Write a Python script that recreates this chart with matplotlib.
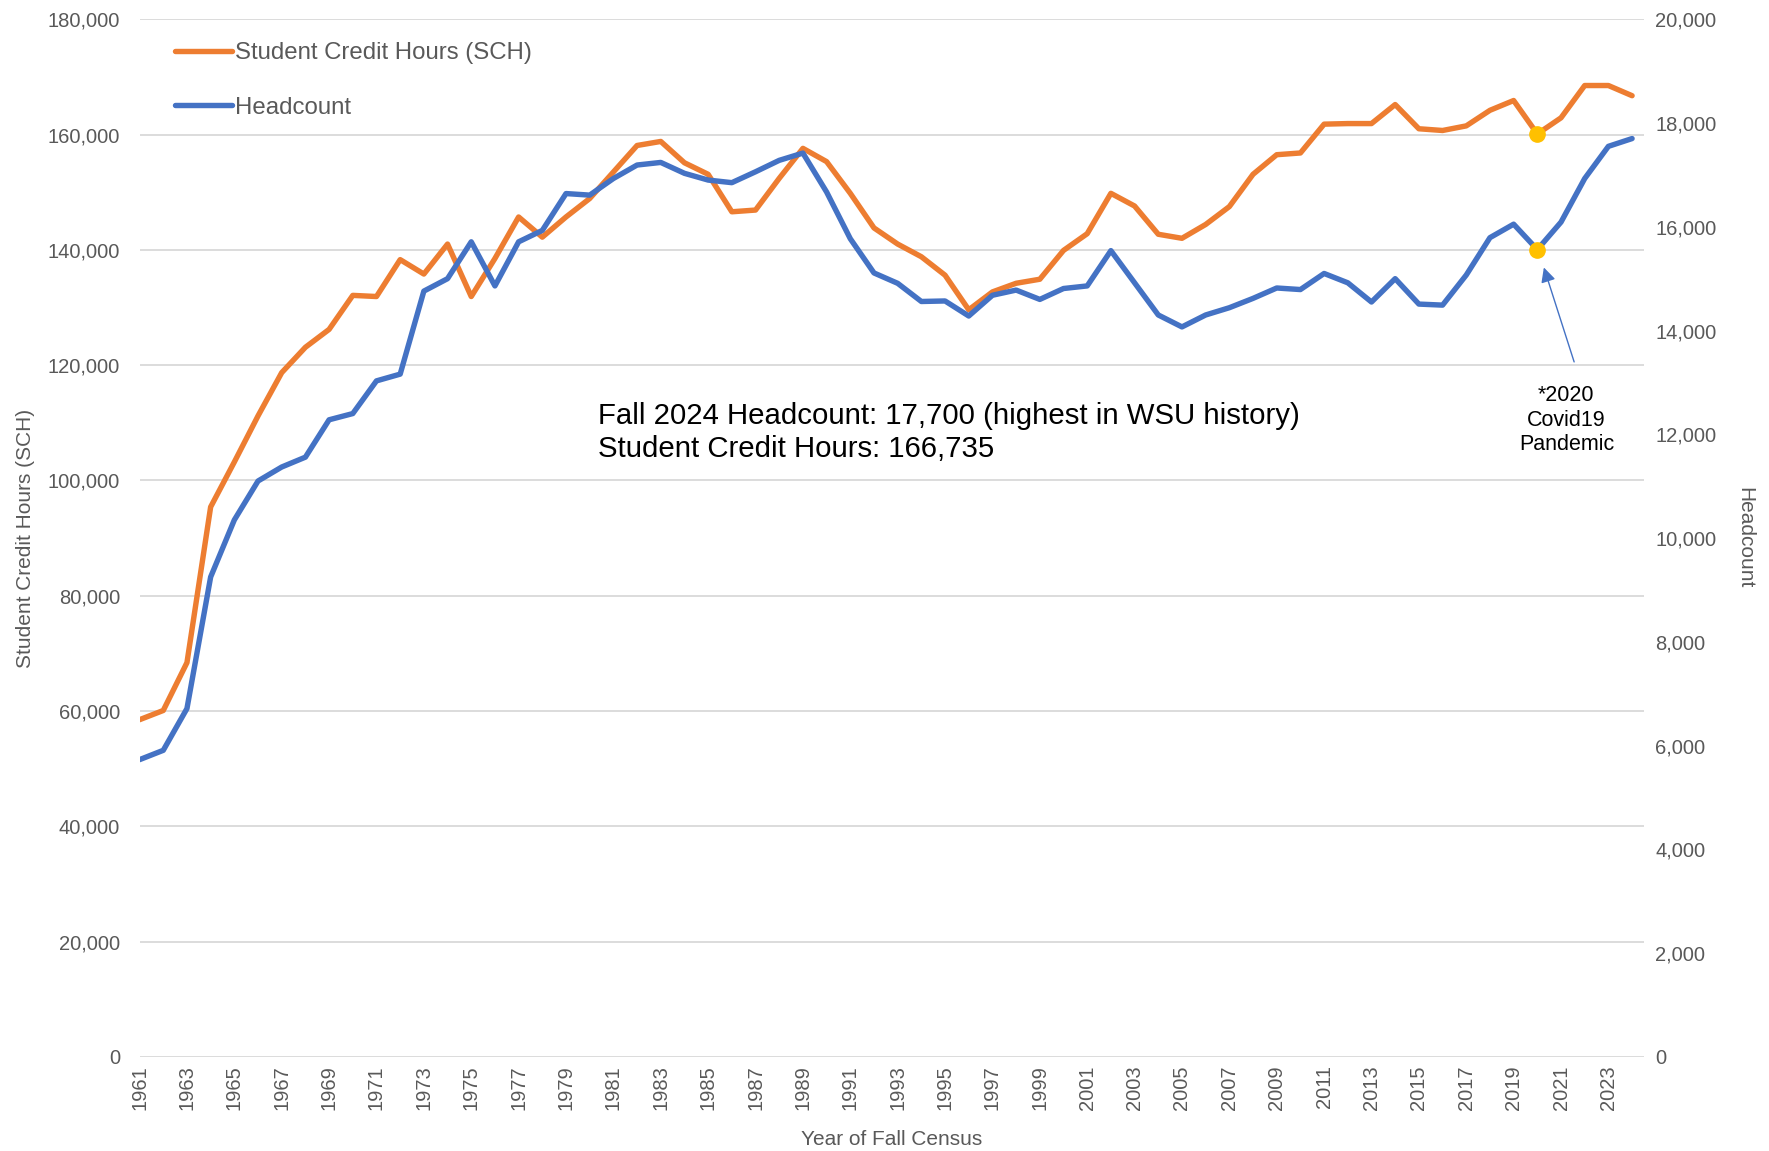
import matplotlib.pyplot as plt
from matplotlib.ticker import FuncFormatter, MultipleLocator

plt.rcParams['font.family'] = ['Liberation Sans', 'DejaVu Sans']

# Fall census data
years = list(range(1961, 2025))
sch = [
    58500, 60100, 68400, 95400, 103200, 111200, 118700, 123100, 126200, 132100,
    131900, 138300, 135800, 141000, 131900, 138500, 145700, 142200, 145700, 148900,
    153500, 158100, 158800, 155100, 153100, 146600, 146900, 152400, 157600, 155300,
    149800, 143800, 141000, 138800, 135600, 129600, 132700, 134200, 134900, 139900,
    142800, 149800, 147600, 142700, 142000, 144400, 147500, 153100, 156500, 156800,
    161800, 161900, 161900, 165200, 161000, 160700, 161500, 164200, 165900, 160100,
    162900, 168500, 168500, 166735,
]
headcount = [
    5730, 5910, 6715, 9250, 10350, 11100, 11370, 11560, 12280, 12400,
    13030, 13160, 14760, 15000, 15710, 14860, 15710, 15930, 16640, 16610,
    16930, 17190, 17240, 17030, 16900, 16850, 17060, 17280, 17420, 16670,
    15770, 15110, 14910, 14560, 14570, 14280, 14680, 14780, 14600, 14810,
    14860, 15540, 14920, 14300, 14070, 14300, 14440, 14620, 14820, 14790,
    15100, 14920, 14550, 15000, 14510, 14490, 15070, 15790, 16050, 15560,
    16090, 16930, 17550, 17700,
]
covid_year = 2020

orange = '#ED7D31'
blue = '#4472C4'
gold = '#FFC000'
gray = '#595959'

fig = plt.figure(figsize=(17.69, 11.51), dpi=100)
ax = fig.add_axes([0.0789, 0.0817, 0.8504, 0.9016])
ax2 = ax.twinx()

l1, = ax.plot(years, sch, color=orange, lw=3.9, solid_capstyle='round',
              solid_joinstyle='round', label='Student Credit Hours (SCH)', zorder=3)
l2, = ax2.plot(years, headcount, color=blue, lw=3.9, solid_capstyle='round',
               solid_joinstyle='round', label='Headcount', zorder=3)

i = years.index(covid_year)
ax.plot([covid_year], [sch[i]], 'o', color=gold, ms=11, zorder=5)
ax2.plot([covid_year], [headcount[i]], 'o', color=gold, ms=11, zorder=5)

ax.set_xlim(1961, 2024.5)
ax.set_ylim(0, 180000)
ax2.set_ylim(0, 20000)
ax.yaxis.set_major_locator(MultipleLocator(20000))
ax2.yaxis.set_major_locator(MultipleLocator(2000))
fmt = FuncFormatter(lambda v, p: f'{v:,.0f}')
ax.yaxis.set_major_formatter(fmt)
ax2.yaxis.set_major_formatter(fmt)
ax.set_xticks(years[::2])
ax.set_xticklabels([str(y) for y in years[::2]], rotation=90)

ax.grid(axis='y', color='#D9D9D9', lw=1.3)
ax.set_axisbelow(True)
for a in (ax, ax2):
    for s in a.spines.values():
        s.set_visible(False)
ax.tick_params(axis='y', length=0, pad=14, labelsize=14.5, labelcolor=gray)
ax.tick_params(axis='x', length=0, pad=6, labelsize=14.5, labelcolor=gray)
ax2.tick_params(axis='y', length=0, pad=8, labelsize=14.5, labelcolor=gray)

ax.set_xlabel('Year of Fall Census', fontsize=15, color=gray, labelpad=14)
ax.set_ylabel('Student Credit Hours (SCH)', fontsize=15, color=gray, labelpad=9)
ax2.set_ylabel('Headcount', fontsize=15, color=gray, rotation=270, labelpad=27)

ax.legend(handles=[l1, l2], loc='upper left', bbox_to_anchor=(0.017, 0.987),
          frameon=False, fontsize=17.3, labelcolor=gray, handlelength=2.4,
          handletextpad=0.1, labelspacing=1.35, borderaxespad=0)

ax.text(1980.33, 108300,
        'Fall 2024 Headcount: 17,700 (highest in WSU history)\n'
        'Student Credit Hours: 166,735',
        fontsize=21.2, color='black', ha='left', va='center', zorder=6)

ax.annotate('', xy=(2020.24, 137400), xytext=(2021.59, 120100),
            arrowprops=dict(arrowstyle='-|>', color=blue, lw=1,
                            mutation_scale=22), zorder=6)
ax.text(2021.23, 116500, '*2020\nCovid19\nPandemic', fontsize=15.5,
        color='black', ha='center', va='top', linespacing=1.2, zorder=6)

fig.savefig('out.png', dpi=100)
